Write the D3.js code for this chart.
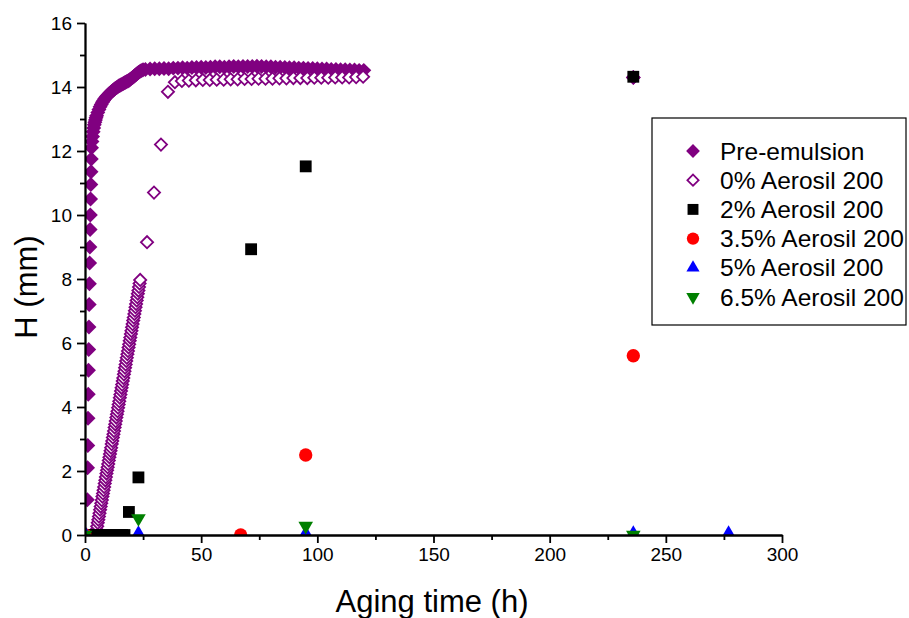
<!DOCTYPE html>
<html>
<head>
<meta charset="utf-8">
<script src="https://cdn.jsdelivr.net/npm/d3@7"></script>
<style>
  body { margin: 0; background: #fff; }
  text { font-family: "Liberation Sans", Arial, sans-serif; }
</style>
</head>
<body>
<div id="root"></div>
<script>
// [aging time (h), H (mm)]
const preEmulsion = [
  [1.0, 1.1], [1.1, 2.1], [1.2, 2.8], [1.3, 3.65], [1.4, 4.4], [1.5, 5.15], [1.6, 5.8],
  [1.7, 6.5], [1.8, 7.2], [1.9, 7.85], [2.0, 8.5], [2.1, 9.0], [2.2, 9.55], [2.3, 10.0],
  [2.4, 10.5], [2.5, 10.95], [2.6, 11.35], [2.7, 11.75], [2.8, 12.1], [3.0, 12.3],
  [3.25, 12.45], [3.5, 12.6], [3.75, 12.72], [4.0, 12.82], [4.25, 12.9], [4.5, 12.97],
  [4.75, 13.04], [5.0, 13.1], [5.5, 13.2], [6.0, 13.3], [6.5, 13.38], [7.0, 13.45],
  [7.5, 13.52], [8.0, 13.58], [8.5, 13.63], [9.0, 13.68], [9.5, 13.72], [10.0, 13.76],
  [10.5, 13.8], [11.0, 13.83], [11.5, 13.86], [12.0, 13.89], [12.5, 13.92], [13.0, 13.95],
  [13.5, 13.98], [14.0, 14.0], [14.5, 14.03], [15.0, 14.05], [15.5, 14.07], [16.0, 14.09],
  [16.5, 14.11], [17.0, 14.13], [17.5, 14.15], [18.0, 14.17], [18.5, 14.19], [19.0, 14.21],
  [19.5, 14.24], [20.0, 14.27], [20.5, 14.3], [21.0, 14.33], [21.5, 14.36], [22.0, 14.39],
  [22.5, 14.42], [23.0, 14.45], [23.5, 14.48], [24.0, 14.5], [24.5, 14.52], [25.0, 14.54],
  [26, 14.55], [28, 14.56], [30, 14.57], [32, 14.57], [34, 14.58], [36, 14.57], [38, 14.59],
  [40, 14.59], [42, 14.6], [44, 14.59], [46, 14.61], [48, 14.61], [50, 14.62], [52, 14.61],
  [54, 14.62], [56, 14.63], [58, 14.63], [60, 14.62], [62, 14.63], [64, 14.64], [66, 14.63],
  [68, 14.64], [70, 14.64], [72, 14.64], [74, 14.65], [76, 14.64], [78, 14.63], [80, 14.63],
  [82, 14.62], [84, 14.62], [86, 14.61], [88, 14.6], [90, 14.6], [92, 14.59], [94, 14.59],
  [96, 14.58], [98, 14.58], [100, 14.57], [102, 14.56], [104, 14.56], [106, 14.55],
  [108, 14.55], [110, 14.54], [112, 14.54], [114, 14.53], [116, 14.53], [118, 14.52],
  [120, 14.52], [236, 14.3]
];

const aerosil0 = [
  [4.5, 0.0], [4.75, 0.08], [5.0, 0.17], [5.25, 0.27], [5.5, 0.38], [5.75, 0.48], [6.0, 0.58],
  [6.25, 0.68], [6.5, 0.79], [6.75, 0.89], [7.0, 0.99], [7.25, 1.09], [7.5, 1.2], [7.75, 1.3],
  [8.0, 1.4], [8.25, 1.5], [8.5, 1.61], [8.75, 1.71], [9.0, 1.81], [9.25, 1.92], [9.5, 2.02],
  [9.75, 2.12], [10.0, 2.22], [10.25, 2.33], [10.5, 2.43], [10.75, 2.53], [11.0, 2.63],
  [11.25, 2.73], [11.5, 2.84], [11.75, 2.94], [12.0, 3.05], [12.25, 3.15], [12.5, 3.25],
  [12.75, 3.36], [13.0, 3.46], [13.25, 3.56], [13.5, 3.67], [13.75, 3.77], [14.0, 3.87],
  [14.25, 3.98], [14.5, 4.08], [14.75, 4.18], [15.0, 4.29], [15.25, 4.39], [15.5, 4.5],
  [15.75, 4.6], [16.0, 4.7], [16.25, 4.81], [16.5, 4.91], [16.75, 5.02], [17.0, 5.12],
  [17.25, 5.23], [17.5, 5.33], [17.75, 5.44], [18.0, 5.54], [18.25, 5.65], [18.5, 5.75],
  [18.75, 5.86], [19.0, 5.96], [19.25, 6.07], [19.5, 6.17], [19.75, 6.28], [20.0, 6.38],
  [20.25, 6.49], [20.5, 6.59], [20.75, 6.7], [21.0, 6.8], [21.25, 6.91], [21.5, 7.01],
  [21.75, 7.12], [22.0, 7.22], [22.25, 7.33], [22.5, 7.43], [22.75, 7.54], [23.0, 7.64],
  [23.25, 7.75], [23.5, 7.86], [23.75, 7.97], [26.7, 9.15], [29.7, 10.7], [32.7, 12.2],
  [35.7, 13.85], [38.7, 14.15], [41.7, 14.19], [44.7, 14.2], [47.7, 14.21], [50.7, 14.22],
  [53.7, 14.22], [56.7, 14.23], [59.7, 14.23], [62.7, 14.24], [65.7, 14.24], [68.7, 14.25],
  [71.7, 14.25], [74.7, 14.26], [77.7, 14.26], [80.7, 14.26], [83.7, 14.27], [86.7, 14.27],
  [89.7, 14.28], [92.7, 14.28], [95.7, 14.28], [98.7, 14.29], [101.7, 14.29], [104.7, 14.29],
  [107.7, 14.3], [110.7, 14.3], [113.7, 14.3], [116.7, 14.31], [119.7, 14.32], [236, 14.3]
];

const aerosil2 = [
  [0, 0], [1, 0], [2, 0], [3, 0], [4, 0], [5, 0], [6, 0], [7, 0], [8, 0], [9, 0], [10, 0],
  [11, 0], [12, 0], [13, 0], [14, 0], [15, 0], [16, 0], [17, 0], [18.9, 0.72], [23, 1.8],
  [71.5, 8.93], [95, 11.52], [236, 14.32]
];

const aerosil35 = [[0, 0], [67, 0], [95, 2.5], [236, 5.6]];

const aerosil5 = [[0, 0.05], [23, 0.05], [95, 0.05], [236, 0.05], [277, 0.05]];

const aerosil65 = [[0, 0], [23, 0.52], [95, 0.28], [236, 0]];

const seriesNames = [
  "Pre-emulsion", "0% Aerosil 200", "2% Aerosil 200",
  "3.5% Aerosil 200", "5% Aerosil 200", "6.5% Aerosil 200"
];

const xTicks = [0, 50, 100, 150, 200, 250, 300];
const yTicks = [0, 2, 4, 6, 8, 10, 12, 14, 16];

const width = 909;
const height = 618;

const x = d3.scaleLinear().domain([0, 300]).range([85, 782]);
const y = d3.scaleLinear().domain([0, 16]).range([535, 23]);

const svg = d3
  .select("#root")
  .append("svg")
  .attr("width", width)
  .attr("height", height);

svg
  .append("clipPath")
  .attr("id", "plot-clip")
  .append("rect")
  .attr("x", x(0))
  .attr("y", y(16))
  .attr("width", x(300) - x(0))
  .attr("height", y(0) - y(16));

// marker styles, one per series
const styles = [
  { type: d3.symbolSquare, size: 112, rotate: 45, fill: "#800080", stroke: "none" },
  { type: d3.symbolSquare, size: 74, rotate: 45, fill: "#fff", stroke: "#800080" },
  { type: d3.symbolSquare, size: 140, rotate: 0, fill: "#000", stroke: "none" },
  { type: d3.symbolCircle, size: 140, rotate: 0, fill: "#ff0000", stroke: "none" },
  { type: d3.symbolTriangle, size: 88, rotate: 0, fill: "#0000ff", stroke: "none" },
  { type: d3.symbolTriangle, size: 92, rotate: 180, fill: "#008000", stroke: "none" }
];

const allSeries = [preEmulsion, aerosil0, aerosil2, aerosil35, aerosil5, aerosil65];

const plot = svg.append("g").attr("clip-path", "url(#plot-clip)");

allSeries.forEach((data, i) => {
  const s = styles[i];
  plot
    .append("g")
    .selectAll("path")
    .data(data)
    .join("path")
    .attr("d", d3.symbol().type(s.type).size(s.size))
    .attr(
      "transform",
      (d) => `translate(${x(d[0])},${y(d[1])}) rotate(${s.rotate})`
    )
    .attr("fill", s.fill)
    .attr("stroke", s.stroke)
    .attr("stroke-width", 1.8);
});

// axes
svg
  .append("g")
  .attr("transform", `translate(0,${y(0)})`)
  .call(d3.axisBottom(x).tickValues(xTicks).tickSize(8).tickPadding(5).tickSizeOuter(0));

svg
  .append("g")
  .attr("transform", `translate(0,${y(0)})`)
  .call(
    d3.axisBottom(x)
      .tickValues([25, 75, 125, 175, 225, 275])
      .tickSize(5)
      .tickFormat("")
      .tickSizeOuter(0)
  );

svg
  .append("g")
  .attr("transform", `translate(${x(0)},0)`)
  .call(d3.axisLeft(y).tickValues(yTicks).tickSize(8).tickPadding(5).tickSizeOuter(0));

svg
  .append("g")
  .attr("transform", `translate(${x(0)},0)`)
  .call(
    d3.axisLeft(y)
      .tickValues([1, 3, 5, 7, 9, 11, 13, 15])
      .tickSize(5)
      .tickFormat("")
      .tickSizeOuter(0)
  );

svg.selectAll(".domain").attr("stroke", "#000").attr("stroke-width", 1.8);
svg.selectAll(".tick line").attr("stroke", "#000").attr("stroke-width", 1.8);
svg
  .selectAll(".tick text")
  .attr("font-size", 19)
  .attr("font-family", "Liberation Sans, Arial, sans-serif")
  .attr("fill", "#000");

// axis titles
svg
  .append("text")
  .attr("x", 432)
  .attr("y", 612)
  .attr("text-anchor", "middle")
  .attr("font-size", 31)
  .text("Aging time (h)");

svg
  .append("text")
  .attr("transform", "translate(37,287) rotate(-90)")
  .attr("text-anchor", "middle")
  .attr("font-size", 31)
  .text("H (mm)");

// legend
const legend = svg.append("g");

legend
  .append("rect")
  .attr("x", 652)
  .attr("y", 118)
  .attr("width", 254)
  .attr("height", 207)
  .attr("fill", "#fff")
  .attr("stroke", "#000")
  .attr("stroke-width", 1.2);

seriesNames.forEach((name, i) => {
  const s = styles[i];
  const ly = 151 + i * 29.2;
  legend
    .append("path")
    .attr("d", d3.symbol().type(s.type).size(s.size * 0.85))
    .attr("transform", `translate(693,${ly}) rotate(${s.rotate})`)
    .attr("fill", s.fill)
    .attr("stroke", s.stroke)
    .attr("stroke-width", 1.8);
  legend
    .append("text")
    .attr("x", 720)
    .attr("y", ly + 8.5)
    .attr("font-size", 24.5)
    .text(name);
});
</script>
</body>
</html>
